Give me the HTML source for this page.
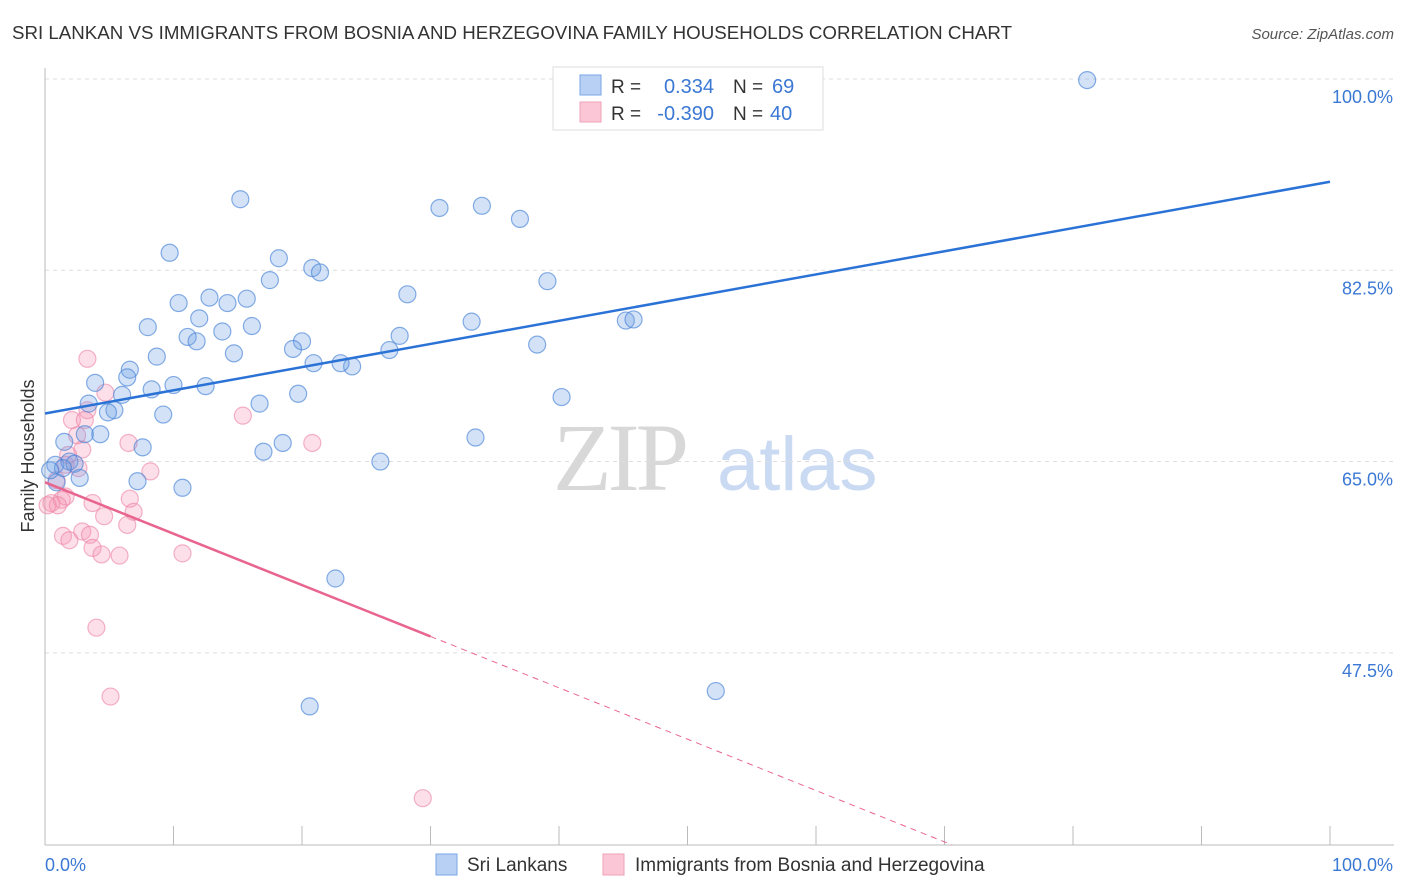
<!DOCTYPE html>
<html><head><meta charset="utf-8"><style>
body{margin:0;background:#fff;font-family:"Liberation Sans",sans-serif;}
svg{display:block}
</style></head><body>
<svg id="chart" width="1406" height="892" xmlns="http://www.w3.org/2000/svg" font-family="Liberation Sans, sans-serif">
<text x="12" y="39" font-size="18" fill="#333" textLength="1000" lengthAdjust="spacingAndGlyphs">SRI LANKAN VS IMMIGRANTS FROM BOSNIA AND HERZEGOVINA FAMILY HOUSEHOLDS CORRELATION CHART</text>
<text x="1394" y="39" font-size="15" fill="#555" font-style="italic" text-anchor="end">Source: ZipAtlas.com</text>
<g>
<text x="553" y="490" font-size="96" fill="#d8d8d8" font-family="Liberation Serif, serif" letter-spacing="-4">ZIP</text>
<text x="717" y="490" font-size="76" fill="#c9daf2">atlas</text>
</g>
<g id="grid"></g><g id="axes"></g><g id="marks"></g>
<text transform="translate(34,456) rotate(-90)" font-size="18" fill="#333" text-anchor="middle">Family Households</text>
<g>
<rect x="553" y="67" width="270" height="63" fill="#fff" stroke="#ddd"/>
<rect x="580" y="75" width="21" height="20" fill="#b8d0f4" stroke="#7aa6e6"/>
<rect x="580" y="102" width="21" height="20" fill="#fbc7d6" stroke="#f0a0b8"/>
<text x="611" y="93" font-size="19" fill="#333">R =</text>
<text x="714" y="93" font-size="20" fill="#3b78d4" text-anchor="end">0.334</text>
<text x="733" y="93" font-size="19" fill="#333">N =</text>
<text x="772" y="93" font-size="20" fill="#3b78d4">69</text>
<text x="611" y="120" font-size="19" fill="#333">R =</text>
<text x="714" y="120" font-size="20" fill="#3b78d4" text-anchor="end">-0.390</text>
<text x="733" y="120" font-size="19" fill="#333">N =</text>
<text x="770" y="120" font-size="20" fill="#3b78d4">40</text>
</g>
<g>
<rect x="436" y="854" width="21" height="21" fill="#b8d0f4" stroke="#7aa6e6"/>
<text x="467" y="871" font-size="19" fill="#333">Sri Lankans</text>
<rect x="603" y="854" width="21" height="21" fill="#fbc7d6" stroke="#f0a0b8"/>
<text x="635" y="871" font-size="19" fill="#333">Immigrants from Bosnia and Herzegovina</text>
</g>
</svg>
<script>
const yTicks=[100,82.5,65,47.5];
const yTickLabels=["100.0%","82.5%","65.0%","47.5%"];
const xTickLabels=["0.0%","100.0%"];
const blueX=[81.1,15.2,30.7,34.0,36.96,9.7,18.2,20.8,21.4,17.5,39.1,28.2,10.4,12.8,14.2,15.7,12.0,8.0,13.8,16.1,11.1,11.8,33.2,45.2,45.8,20.0,27.6,38.3,19.3,14.7,26.8,8.7,20.9,23.9,23.0,6.6,6.4,3.9,10.0,8.3,12.5,19.7,6.0,40.2,16.7,3.4,5.4,4.9,9.2,1.5,4.3,3.1,7.6,18.5,17.0,33.5,26.1,0.8,1.9,2.3,1.4,2.7,7.2,10.7,0.9,22.6,52.2,20.6,0.4];
const blueY=[99.9,89.0,88.2,88.4,87.2,84.1,83.6,82.7,82.3,81.6,81.5,80.3,79.5,80.0,79.5,79.9,78.1,77.3,76.9,77.4,76.4,76.0,77.8,77.9,78.0,76.0,76.5,75.7,75.3,74.9,75.2,74.6,74.0,73.7,74.0,73.4,72.7,72.2,72.0,71.6,71.9,71.2,71.1,70.9,70.3,70.3,69.7,69.5,69.3,66.8,67.5,67.5,66.3,66.7,65.9,67.2,65.0,64.7,65.0,64.8,64.4,63.5,63.2,62.6,63.1,54.3,44.0,42.6,64.2];
const pinkX=[3.3,4.7,3.3,15.4,2.1,3.1,6.5,20.8,2.9,2.5,1.8,1.6,2.6,8.2,0.9,1.6,1.3,6.6,0.5,1.0,3.7,4.6,6.9,6.4,2.9,3.5,1.4,1.9,3.7,4.4,5.8,10.7,4.0,5.1,29.4,0.2];
const pinkY=[74.4,71.3,69.7,69.2,68.8,68.8,66.7,66.7,66.1,67.4,65.6,64.7,64.4,64.1,63.3,61.8,61.5,61.6,61.2,61.0,61.2,60.0,60.4,59.2,58.6,58.3,58.2,57.8,57.1,56.5,56.4,56.6,49.8,43.5,34.2,61.0];
const blueTrend=[69.4,90.6];
const pinkTrend=[63.1,49.0];
const pinkSolidEnd=30;

const NS="http://www.w3.org/2000/svg";
const X0=45,X1=1330,PT=68,PB=845;
const sx=v=>X0+v*(X1-X0)/100;
const sy=v=>79+(100-v)*10.93;
function mk(tag,attrs,parent){const e=document.createElementNS(NS,tag);for(const k in attrs)e.setAttribute(k,attrs[k]);parent.appendChild(e);return e;}
const grid=document.getElementById('grid'),axes=document.getElementById('axes'),marks=document.getElementById('marks');
yTicks.forEach((t,i)=>{
 const l=mk('line',{x1:X0,x2:1394,y1:sy(t),y2:sy(t),stroke:'#ddd','stroke-dasharray':'4,4'},grid);
 
 
 const tx=mk('text',{x:1393,y:sy(t)+24,'font-size':18,fill:'#3b78d4','text-anchor':'end'},axes);
 tx.textContent=yTickLabels[i];
 
 
});
const ya=mk('line',{x1:X0,x2:X0,y1:PT,y2:PB,stroke:'#bbb'},axes);


const xa=mk('line',{x1:X0,x2:1394,y1:PB,y2:PB,stroke:'#bbb'},axes);


for(let i=0;i<=10;i++){
 const t=mk('line',{x1:sx(i*10),x2:sx(i*10),y1:826,y2:PB,stroke:'#bbb'},axes);
 
 
}
[[0,'start'],[100,'end']].forEach((p,i)=>{
 const tx=mk('text',{x:i?1393:sx(0),y:871,'font-size':18,fill:'#3b78d4','text-anchor':p[1]},axes);
 tx.textContent=xTickLabels[i];
 
 
});
pinkX.forEach((x,i)=>{
 const c=mk('circle',{cx:sx(x),cy:sy(pinkY[i]),r:8.5,fill:'rgba(244,150,180,0.3)',stroke:'rgba(236,130,165,0.6)','stroke-width':1.2},marks);
 
 
});
blueX.forEach((x,i)=>{
 const c=mk('circle',{cx:sx(x),cy:sy(blueY[i]),r:8.5,fill:'rgba(110,160,230,0.3)',stroke:'rgba(70,130,215,0.65)','stroke-width':1.2},marks);
 
 
});
const bl=mk('line',{x1:sx(0),y1:sy(blueTrend[0]),x2:sx(100),y2:sy(blueTrend[1]),stroke:'#2a72d6','stroke-width':2.5},marks);


const slope=(pinkTrend[1]-pinkTrend[0])/pinkSolidEnd;
const pl=mk('line',{x1:sx(0),y1:sy(pinkTrend[0]),x2:sx(pinkSolidEnd),y2:sy(pinkTrend[1]),stroke:'#e8658f','stroke-width':2.5},marks);


const yBottom=100-(PB-79)/10.93;
const xEnd=(yBottom-pinkTrend[0])/slope;
const pd=mk('line',{x1:sx(pinkSolidEnd),y1:sy(pinkTrend[1]),x2:sx(xEnd),y2:sy(yBottom),stroke:'#e8658f','stroke-width':1,'stroke-dasharray':'6,5'},marks);


</script>
</body></html>
